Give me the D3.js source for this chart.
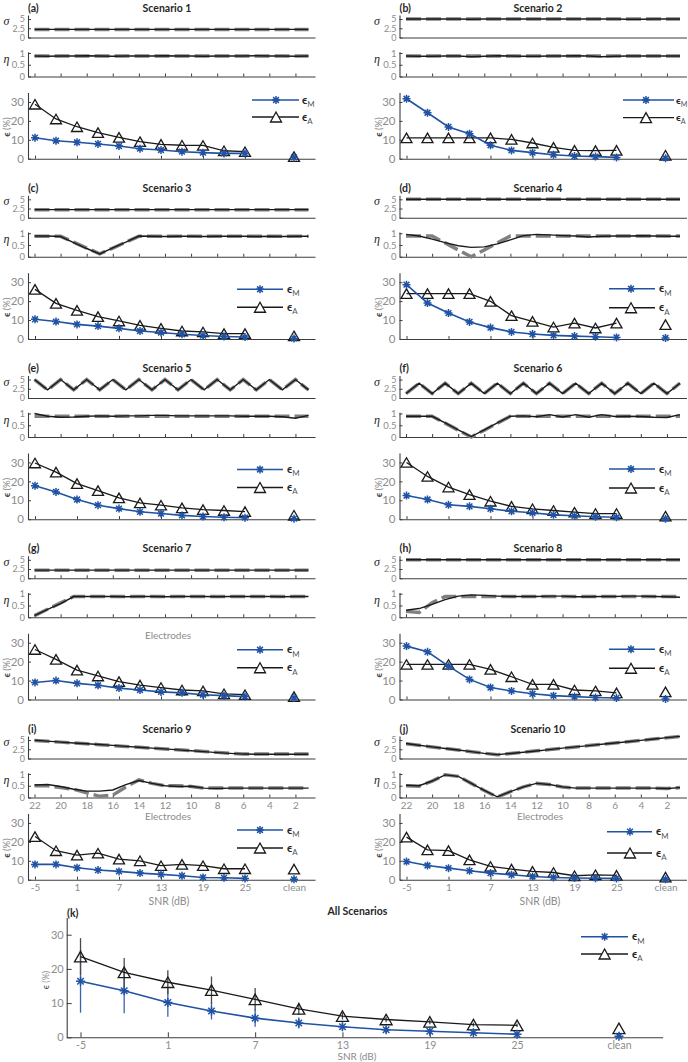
<!DOCTYPE html>
<html><head><meta charset="utf-8">
<script src="https://cdn.jsdelivr.net/npm/d3@7"></script>
<style>
body{margin:0;background:#fff;}
svg{display:block;font-family:Lato,"Open Sans",sans-serif;}
</style></head><body>
<svg id="c" width="688" height="1062"></svg>
<script>
// ---------------- DATA ----------------
const electrodes = [22,21,20,19,18,17,16,15,14,13,12,11,10,9,8,7,6,5,4,3,2,1];
const electrodeTicks = [22,20,18,16,14,12,10,8,6,4,2];
const snrValues = [-5,-2,1,4,7,10,13,16,19,22,25,32]; // 32 = "clean"
const snrTicks = [-5,1,7,13,19,25,32];
const snrTickLabels = ["-5","1","7","13","19","25","clean"];
const sigmaTicks = [0,2.5,5];
const etaTicks = [0,0.5,1];
const errTicks = [0,10,20,30];
const scenarioTitles = ["Scenario 1","Scenario 2","Scenario 3","Scenario 4","Scenario 5","Scenario 6","Scenario 7","Scenario 8","Scenario 9","Scenario 10"];
const panelLetters = ["(a)","(b)","(c)","(d)","(e)","(f)","(g)","(h)","(i)","(j)"];

const sigmaTrue = [
 [2.2,2.2,2.2,2.2,2.2,2.2,2.2,2.2,2.2,2.2,2.2,2.2,2.2,2.2,2.2,2.2,2.2,2.2,2.2,2.2,2.2,2.2],
 [5,5,5,5,5,5,5,5,5,5,5,5,5,5,5,5,5,5,5,5,5,5],
 [2.2,2.2,2.2,2.2,2.2,2.2,2.2,2.2,2.2,2.2,2.2,2.2,2.2,2.2,2.2,2.2,2.2,2.2,2.2,2.2,2.2,2.2],
 [5,5,5,5,5,5,5,5,5,5,5,5,5,5,5,5,5,5,5,5,5,5],
 [5,2.2,5,2.2,5,2.2,5,2.2,5,2.2,5,2.2,5,2.2,5,2.2,5,2.2,5,2.2,5,2.2],
 [1.2,4,1.2,4,1.2,4,1.2,4,1.2,4,1.2,4,1.2,4,1.2,4,1.2,4,1.2,4,1.2,4],
 [2.2,2.2,2.2,2.2,2.2,2.2,2.2,2.2,2.2,2.2,2.2,2.2,2.2,2.2,2.2,2.2,2.2,2.2,2.2,2.2,2.2,2.2],
 [5,5,5,5,5,5,5,5,5,5,5,5,5,5,5,5,5,5,5,5,5,5],
 [4.9,4.67,4.44,4.21,3.98,3.75,3.51,3.28,3.05,2.82,2.59,2.36,2.13,1.9,1.66,1.43,1.2,1.2,1.2,1.2,1.2,1.2],
 [4,3.57,3.14,2.71,2.29,1.86,1.43,1.0,1.36,1.71,2.07,2.43,2.79,3.14,3.5,3.86,4.21,4.57,4.93,5.29,5.64,6.0]
];
const sigmaEst = [
 [2.2,2.2,2.2,2.2,2.2,2.2,2.2,2.2,2.2,2.2,2.2,2.2,2.2,2.2,2.2,2.2,2.2,2.2,2.2,2.2,2.2,2.2],
 [5,5,5,5,5,4.93,5,5,5,5,5,5,5,5,5,5,5,4.95,4.93,5,5,5],
 [2.2,2.2,2.2,2.2,2.2,2.2,2.2,2.2,2.2,2.2,2.2,2.2,2.2,2.2,2.2,2.2,2.2,2.2,2.2,2.2,2.2,2.2],
 [5,5,5,5,5,5,5,5,5,5,5,5,5,5,5,5,5,5,5,5,5,5],
 [5,2.2,5,2.2,5,2.2,5,2.2,5,2.2,5,2.2,5,2.2,5,2.2,5,2.2,5,2.2,5,2.2],
 [1.2,4,1.2,4,1.2,4,1.2,4,1.2,4,1.2,4,1.2,4,1.2,4,1.2,4,1.2,4,1.2,4],
 [2.2,2.2,2.2,2.2,2.2,2.2,2.2,2.2,2.2,2.2,2.2,2.2,2.2,2.2,2.2,2.2,2.2,2.2,2.2,2.2,2.2,2.2],
 [5,5,5,5,5,5,5,5,5,5,5,5,5,5,5,5,5,5,5,5,5,5],
 [4.95,4.7,4.45,4.2,4.0,3.8,3.55,3.3,3.05,2.8,2.6,2.35,2.1,1.85,1.6,1.4,1.2,1.15,1.15,1.15,1.15,1.15],
 [4.05,3.6,3.15,2.7,2.3,1.85,1.4,1.05,1.35,1.7,2.05,2.4,2.8,3.15,3.5,3.85,4.2,4.55,4.9,5.3,5.65,6.0]
];
const etaTrue = [
 [0.87,0.87,0.87,0.87,0.87,0.87,0.87,0.87,0.87,0.87,0.87,0.87,0.87,0.87,0.87,0.87,0.87,0.87,0.87,0.87,0.87,0.87],
 [0.87,0.87,0.87,0.87,0.87,0.87,0.87,0.87,0.87,0.87,0.87,0.87,0.87,0.87,0.87,0.87,0.87,0.87,0.87,0.87,0.87,0.87],
 [0.87,0.87,0.87,0.62,0.37,0.12,0.37,0.62,0.87,0.87,0.87,0.87,0.87,0.87,0.87,0.87,0.87,0.87,0.87,0.87,0.87,0.87],
 [0.88,0.88,0.88,0.59,0.29,0,0.29,0.59,0.88,0.88,0.88,0.88,0.88,0.88,0.88,0.88,0.88,0.88,0.88,0.88,0.88,0.88],
 [0.88,0.88,0.88,0.88,0.88,0.88,0.88,0.88,0.88,0.88,0.88,0.88,0.88,0.88,0.88,0.88,0.88,0.88,0.88,0.88,0.88,0.88],
 [0.88,0.88,0.88,0.59,0.29,0,0.29,0.59,0.88,0.88,0.88,0.88,0.88,0.88,0.88,0.88,0.88,0.88,0.88,0.88,0.88,0.88],
 [0.07,0.34,0.61,0.88,0.88,0.88,0.88,0.88,0.88,0.88,0.88,0.88,0.88,0.88,0.88,0.88,0.88,0.88,0.88,0.88,0.88,0.88],
 [0.25,0.2,0.62,0.88,0.88,0.88,0.88,0.88,0.88,0.88,0.88,0.88,0.88,0.88,0.88,0.88,0.88,0.88,0.88,0.88,0.88,0.88],
 [0.5,0.5,0.42,0.35,0.2,0.05,0.1,0.45,0.75,0.6,0.5,0.5,0.47,0.4,0.4,0.4,0.4,0.4,0.4,0.4,0.4,0.4],
 [0.5,0.48,0.7,0.97,0.9,0.6,0.3,0.02,0.25,0.45,0.6,0.55,0.45,0.4,0.4,0.4,0.4,0.4,0.4,0.4,0.38,0.42]
];
const etaEst = [
 [0.87,0.86,0.87,0.87,0.88,0.87,0.86,0.87,0.87,0.87,0.88,0.87,0.87,0.86,0.87,0.87,0.87,0.88,0.87,0.87,0.86,0.87],
 [0.87,0.86,0.86,0.87,0.87,0.84,0.86,0.88,0.87,0.86,0.86,0.87,0.87,0.88,0.87,0.84,0.86,0.87,0.87,0.87,0.87,0.87],
 [0.88,0.88,0.86,0.6,0.35,0.12,0.38,0.62,0.88,0.87,0.86,0.87,0.87,0.86,0.87,0.87,0.87,0.86,0.87,0.86,0.87,0.87],
 [0.95,0.88,0.75,0.6,0.47,0.4,0.42,0.55,0.72,0.9,0.95,0.93,0.9,0.88,0.84,0.87,0.88,0.88,0.89,0.88,0.87,0.87],
 [1.0,0.88,0.84,0.85,0.88,0.9,0.88,0.9,0.9,0.92,0.92,0.9,0.9,0.9,0.9,0.9,0.88,0.88,0.88,0.86,0.8,0.92],
 [0.88,0.88,0.88,0.6,0.3,0.02,0.3,0.6,0.88,0.9,0.86,0.95,0.85,0.95,0.84,0.95,0.87,0.88,0.87,0.84,0.83,0.95],
 [0.07,0.33,0.58,0.88,0.88,0.88,0.88,0.87,0.88,0.88,0.87,0.88,0.88,0.88,0.87,0.88,0.88,0.88,0.88,0.87,0.88,0.88],
 [0.3,0.37,0.55,0.75,0.9,0.95,0.93,0.9,0.88,0.88,0.88,0.9,0.9,0.87,0.87,0.88,0.88,0.9,0.9,0.88,0.87,0.85],
 [0.53,0.55,0.47,0.35,0.27,0.27,0.32,0.55,0.72,0.6,0.5,0.47,0.48,0.4,0.38,0.4,0.4,0.4,0.4,0.4,0.4,0.4],
 [0.52,0.5,0.7,0.96,0.9,0.6,0.3,0.03,0.25,0.45,0.6,0.55,0.45,0.4,0.4,0.4,0.4,0.4,0.4,0.4,0.38,0.42]
];
// error (%) per SNR: -5,-2,1,...,25, clean
const errM = [
 [11.1,9.5,8.7,7.8,6.7,5.3,4.6,3.7,3.2,2.8,2.8,0.7],
 [31.7,24.3,16.8,13.2,7.1,4.4,3.2,2.1,1.4,1.1,0.7,0.3],
 [10.4,9.2,7.7,6.8,5.6,4.2,3.4,2.5,1.8,1.3,1.0,0.3],
 [28.7,19,13.7,9,6,3.7,2.6,1.9,1.5,1.2,0.8,0.5],
 [17.7,14.4,10.4,7.4,5.6,3.9,3.0,2.0,1.4,1.0,0.8,0.3],
 [12.5,10.4,7.6,6.8,5.5,4.2,3.4,2.3,1.8,1.3,1.0,0.3],
 [9,10,8.5,7.5,6,5,4,3.5,2.5,2,1.5,0.8],
 [28.2,25.2,17.6,10.6,6.3,4.5,3,2,1.5,1,0.8,0.3],
 [8.1,8.1,6.3,5.1,4.4,3.5,2.8,2.1,1.2,1.0,0.7,0.2],
 [9.6,7.5,6.1,4.7,3.5,2.6,1.7,1.2,0.9,0.8,0.7,0.2]
];
const errA = [
 [28.8,21,16.9,13.8,11.3,9,7.6,7.1,7,4.2,3.7,1.1],
 [11,11,11,11,11,10.2,8.3,6,4.4,4.3,4.4,1.8],
 [26.2,18.8,15.1,11.8,9.5,7.2,5.6,4.2,3.7,2.8,2.8,1.6],
 [24,24,24,24,19.9,12.3,9.3,6.3,8.4,5.8,8.4,7.6],
 [29.7,24.9,18.8,15.1,11.3,8.6,7.4,6,5.1,4.6,4,2.1],
 [30,22.6,17,13,9.5,6.8,5.5,4.6,3.7,3,3,1.6],
 [26.4,21.2,15.5,12.4,9.4,7.6,6.3,5,4.5,3,2.5,1.5],
 [18.5,18.5,18.5,18.5,15.9,12,8,8,5,4.5,3.5,4],
 [22.8,15.3,13,14,10.9,10,7.4,8.1,7.4,5.8,5.8,5.6],
 [22.5,15.8,15.4,10.5,7,5.6,4.4,3.8,2.1,2.6,2.3,1.4]
];
// all scenarios: mean and standard deviation
const allMeanM = [16.4,13.6,10.2,7.7,5.6,4.2,3.1,2.2,1.75,1.35,0.9,0.3];
const allMeanA = [23.6,19,16.1,13.8,11.1,8.3,6.2,5.2,4.5,3.7,3.5,2.6];
const allSdM = [9.2,6.6,4.2,2.5,2.5,1.6,1.2,1.0,0.8,0.6,0.5,0];
const allSdA = [5.4,4.2,3.5,4.0,3.3,1.8,1.0,0.8,0.7,0.6,0.5,0];

// ---------------- DRAWING ----------------
const svg = d3.select("#c");
const AX = "#3c3c3c", TL = "#8c8c8c", BLUE = "#2153a4", BLK = "#1a1a1a", DASH = "#808080", TXT = "#262626";

function styleAxis(sel, fs) {
  sel.attr("font-family", "Lato").attr("font-size", fs);
  sel.select(".domain").attr("stroke", AX).attr("stroke-width", 1.1);
  sel.selectAll(".tick line").attr("stroke", AX).attr("stroke-width", 1);
  sel.selectAll(".tick text").attr("fill", TL);
}
function starPath(x, y, r) {
  const d = r * 0.72;
  return `M${x-r},${y}H${x+r}M${x},${y-r}V${y+r}M${x-d},${y-d}L${x+d},${y+d}M${x-d},${y+d}L${x+d},${y-d}`;
}
function triPath(x, y, w, h) {
  return `M${x},${y-h/2}L${x+w/2},${y+h/2}L${x-w/2},${y+h/2}Z`;
}
function epsLabel(g, x, y, sub, fs) {
  const t = g.append("text").attr("x", x).attr("y", y).attr("font-size", fs).attr("fill", TXT);
  t.append("tspan").text("ϵ").attr("font-weight", "bold");
  t.append("tspan").text(sub).attr("font-size", fs * 0.72).attr("dy", fs * 0.3).attr("fill", "#555");
}
function drawSeries(g, xs, ys, mVals, aVals, tw, th, sr) {
  const line = d3.line().x((d, i) => xs(snrValues[i])).y(d => ys(d));
  g.append("path").attr("d", line(aVals.slice(0, 11))).attr("fill", "none").attr("stroke", BLK).attr("stroke-width", 1.3);
  g.selectAll(null).data(aVals).enter().append("path")
    .attr("d", (d, i) => triPath(xs(snrValues[i]), ys(d), tw, th))
    .attr("fill", "none").attr("stroke", BLK).attr("stroke-width", 1.3);
  g.append("path").attr("d", line(mVals.slice(0, 11))).attr("fill", "none").attr("stroke", BLUE).attr("stroke-width", 1.6);
  g.selectAll(null).data(mVals).enter().append("path")
    .attr("d", (d, i) => starPath(xs(snrValues[i]), ys(d), sr))
    .attr("fill", "none").attr("stroke", BLUE).attr("stroke-width", 1.5);
}
function legend(g, L, fs) {
  g.append("line").attr("x1", L.x1).attr("x2", L.x2).attr("y1", L.y1).attr("y2", L.y1).attr("stroke", BLUE).attr("stroke-width", 1.6);
  g.append("path").attr("d", starPath(L.xm, L.y1, 4)).attr("stroke", BLUE).attr("stroke-width", 1.5).attr("fill", "none");
  g.append("line").attr("x1", L.x1).attr("x2", L.x2).attr("y1", L.y2).attr("y2", L.y2).attr("stroke", BLK).attr("stroke-width", 1.3);
  g.append("path").attr("d", triPath(L.xm, L.y2, 11, 10)).attr("stroke", BLK).attr("stroke-width", 1.3).attr("fill", "white");
  epsLabel(g, L.tx, L.y1 + 3.5, "M", fs);
  epsLabel(g, L.tx, L.y2 + 3.5, "A", fs);
}

const legendLeftA = {x1:252,x2:299,xm:276,tx:302,y1:100,y2:117};
const legendLeft = {x1:237,x2:283,xm:260,tx:287,y1:109,y2:127};
const legendRightB = {x1:623,x2:674,xm:646,tx:676,y1:100,y2:117.6};
const legendRight = {x1:609,x2:655,xm:631,tx:659,y1:108.5,y2:127.5};
const legendRightJ = {x1:607,x2:652,xm:630,tx:656,y1:110.7,y2:132};

function drawScenario(i) {
  const col = i % 2, row = Math.floor(i / 2);
  const ox = col * 371.5, oy = row * 180.25;
  const g = svg.append("g").attr("transform", `translate(${ox},${oy})`);
  const xE = d3.scaleLinear().domain([22.5, 0.5]).range([28, 315]);
  const xS = d3.scaleLinear().domain([-6, 35]).range([28, 315]);
  const ySig = d3.scaleLinear().domain([0, 6.1]).range([37.5, 15]);
  const yEta = d3.scaleLinear().domain([0, 1.05]).range([76.5, 51.8]);
  const yErr = d3.scaleLinear().domain([0, 35]).range([158.7, 92.5]);
  const bottomRow = row === 4;

  // titles
  g.append("text").attr("x", 28).attr("y", 11.5).attr("font-size", 10.5).attr("font-weight", "bold").attr("fill", TXT).text(panelLetters[i]);
  g.append("text").attr("x", col ? 166.5 : 167).attr("y", 11.5).attr("text-anchor", "middle").attr("font-size", 10.5).attr("font-weight", "bold").attr("fill", TXT).text(scenarioTitles[i]);

  // sigma axes
  const gsl = g.append("g").attr("transform", "translate(28,0)")
    .call(d3.axisLeft(ySig).tickValues(sigmaTicks).tickFormat(d => String(d)).tickSizeInner(-3).tickSizeOuter(0).tickPadding(3));
  styleAxis(gsl, 9);
  const gsb = g.append("g").attr("transform", `translate(0,${ySig(0)})`)
    .call(d3.axisBottom(xE).tickValues(i === 6 ? electrodeTicks : []).tickFormat("").tickSizeInner(-3).tickSizeOuter(0));
  styleAxis(gsb, 10);
  // eta axes
  const gel = g.append("g").attr("transform", "translate(28,0)")
    .call(d3.axisLeft(yEta).tickValues(etaTicks).tickFormat(d => String(d)).tickSizeInner(-3).tickSizeOuter(0).tickPadding(3));
  styleAxis(gel, 9.5);
  const geb = g.append("g").attr("transform", `translate(0,${yEta(0)})`)
    .call(d3.axisBottom(xE).tickValues(electrodeTicks).tickFormat(bottomRow ? (d => String(d)) : "").tickSizeInner(-3).tickSizeOuter(0).tickPadding(4));
  styleAxis(geb, 10);

  // y labels
  const greek = (x, y, s) => g.append("text").attr("x", x).attr("y", y).attr("font-family", "Liberation Serif, serif").attr("font-style", "italic").attr("font-size", 12).attr("fill", TXT).attr("text-anchor", "middle").text(s);
  greek(col ? 5.5 : 6.5, 25, "σ");
  greek(col ? 5.5 : 6.5, 63, "η");
  const yl = g.append("text").attr("transform", `translate(10,127) rotate(-90)`).attr("text-anchor", "middle").attr("font-size", 9.5).attr("fill", TL);
  yl.append("tspan").text("ϵ ").attr("fill", "#444").attr("font-weight", "bold");
  yl.append("tspan").text("(%)");

  // sigma curves
  const lS = d3.line().x((d, k) => xE(electrodes[k])).y(d => ySig(d));
  g.append("path").attr("d", lS(sigmaTrue[i])).attr("fill", "none").attr("stroke", DASH).attr("stroke-width", 3.5).attr("stroke-dasharray", "15,5");
  g.append("path").attr("d", lS(sigmaEst[i])).attr("fill", "none").attr("stroke", BLK).attr("stroke-width", 1.4);
  // eta curves
  const lE = d3.line().x((d, k) => xE(electrodes[k])).y(d => yEta(d));
  g.append("path").attr("d", lE(etaTrue[i])).attr("fill", "none").attr("stroke", DASH).attr("stroke-width", 3.5).attr("stroke-dasharray", "15,5");
  g.append("path").attr("d", lE(etaEst[i])).attr("fill", "none").attr("stroke", BLK).attr("stroke-width", 1.4);

  if (bottomRow || i === 6) {
    g.append("text").attr("x", col ? 168.5 : 168).attr("y", 98.5).attr("text-anchor", "middle").attr("font-size", 10).attr("fill", TL).text("Electrodes");
  }

  // error axes
  const gyl = g.append("g").attr("transform", "translate(28,0)")
    .call(d3.axisLeft(yErr).tickValues(errTicks).tickSizeInner(-3).tickSizeOuter(0).tickPadding(4));
  styleAxis(gyl, 11.5);
  const gxb = g.append("g").attr("transform", `translate(0,${yErr(0)})`)
    .call(d3.axisBottom(xS).tickValues(snrTicks).tickFormat(bottomRow ? ((d, k) => snrTickLabels[k]) : "").tickSizeInner(-3).tickSizeOuter(0).tickPadding(4.5));
  styleAxis(gxb, 10);
  if (bottomRow) {
    g.append("text").attr("x", col ? 168.5 : 169).attr("y", 183.5).attr("text-anchor", "middle").attr("font-size", 10.5).attr("fill", TL).text("SNR (dB)");
  }

  drawSeries(g, xS, yErr, errM[i], errA[i], 11, 9.5, 4);

  let L;
  if (i === 0) L = legendLeftA;
  else if (i === 1) L = legendRightB;
  else if (i === 9) L = legendRightJ;
  else if (col === 0) L = legendLeft;
  else L = legendRight;
  const Lrel = {x1: L.x1 - ox, x2: L.x2 - ox, xm: L.xm - ox, tx: L.tx - ox, y1: L.y1, y2: L.y2};
  legend(g, Lrel, i === 1 ? 10 : 11);
}

for (let i = 0; i < 10; i++) drawScenario(i);

// ---------------- PANEL (k) ----------------
{
  const g = svg.append("g");
  const xs = d3.scaleLinear().domain([-5.95, 35]).range([66.7, 662.6]);
  const ys = d3.scaleLinear().domain([0, 35]).range([1037.3, 917.6]);
  g.append("text").attr("x", 67).attr("y", 917).attr("font-size", 10.5).attr("font-weight", "bold").attr("fill", TXT).text("(k)");
  g.append("text").attr("x", 357.5).attr("y", 914.5).attr("text-anchor", "middle").attr("font-size", 10.5).attr("font-weight", "bold").attr("fill", TXT).text("All Scenarios");
  const gy = g.append("g").attr("transform", "translate(66.7,0)")
    .call(d3.axisLeft(ys).tickValues(errTicks).tickSizeInner(-5).tickSizeOuter(0).tickPadding(3));
  styleAxis(gy, 11);
  const gx = g.append("g").attr("transform", `translate(0,${ys(0)})`)
    .call(d3.axisBottom(xs).tickValues(snrTicks).tickFormat((d, k) => snrTickLabels[k]).tickSizeInner(-5).tickSizeOuter(0).tickPadding(4));
  styleAxis(gx, 10.5);
  g.append("text").attr("x", 357).attr("y", 1060).attr("text-anchor", "middle").attr("font-size", 10).attr("fill", TL).text("SNR (dB)");
  const yl = g.append("text").attr("transform", `translate(49,980) rotate(-90)`).attr("text-anchor", "middle").attr("font-size", 9).attr("fill", TL);
  yl.append("tspan").text("ϵ ").attr("fill", "#444");
  yl.append("tspan").text("(%)");

  // error bars
  allMeanM.forEach((m, k) => {
    if (allSdM[k] > 0) g.append("line").attr("x1", xs(snrValues[k])).attr("x2", xs(snrValues[k]))
      .attr("y1", ys(m - allSdM[k])).attr("y2", ys(m + allSdM[k])).attr("stroke", "#3d62ad").attr("stroke-width", 1.3);
  });
  allMeanA.forEach((m, k) => {
    if (allSdA[k] > 0) g.append("line").attr("x1", xs(snrValues[k])).attr("x2", xs(snrValues[k]))
      .attr("y1", ys(m - allSdA[k])).attr("y2", ys(m + allSdA[k])).attr("stroke", "#4a4a4a").attr("stroke-width", 1.3);
  });
  drawSeries(g, xs, ys, allMeanM, allMeanA, 12, 10.5, 4.5);
  legend(g, {x1: 581, x2: 628, xm: 604.6, tx: 632, y1: 936.7, y2: 954}, 11);
}
</script></body></html>
